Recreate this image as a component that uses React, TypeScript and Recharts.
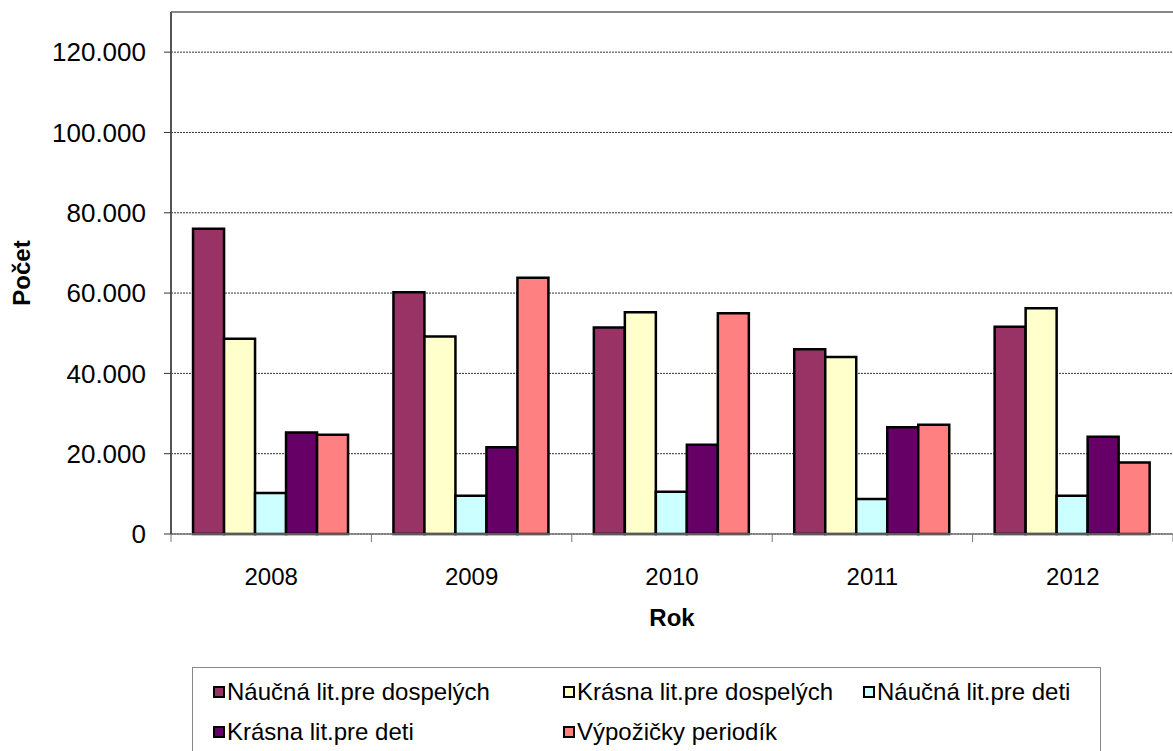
import { BarChart, Bar, XAxis, YAxis, CartesianGrid } from 'recharts';

const years = ['2008', '2009', '2010', '2011', '2012'];
const naucnaDospeli = [76000, 60200, 51400, 46000, 51600];
const krasnaDospeli = [48600, 49200, 55200, 44100, 56200];
const naucnaDeti = [10200, 9500, 10500, 8700, 9500];
const krasnaDeti = [25300, 21600, 22200, 26600, 24200];
const periodika = [24700, 63800, 55000, 27200, 17800];
const yTicks = [0, 20000, 40000, 60000, 80000, 100000, 120000];

const series = [
  { key: 'naucnaDospeli', name: 'Náučná lit.pre dospelých', color: '#993366', values: naucnaDospeli },
  { key: 'krasnaDospeli', name: 'Krásna lit.pre dospelých', color: '#FFFFCC', values: krasnaDospeli },
  { key: 'naucnaDeti', name: 'Náučná lit.pre deti', color: '#CCFFFF', values: naucnaDeti },
  { key: 'krasnaDeti', name: 'Krásna lit.pre deti', color: '#660066', values: krasnaDeti },
  { key: 'periodika', name: 'Výpožičky periodík', color: '#FF8080', values: periodika },
];

const data = years.map((year, i) => {
  const row: Record<string, string | number> = { year };
  series.forEach(s => { row[s.key] = s.values[i]; });
  return row;
});

const FONT = 'Arial, "Liberation Sans", sans-serif';
const FS = 24;
const PLOT_LEFT = 171;
const PLOT_RIGHT = 1173;
const BAND = (PLOT_RIGHT - PLOT_LEFT) / years.length;

const fmt = (v: number) => (v === 0 ? '0' : v.toLocaleString('de-DE'));

function XTick(props: any) {
  const { x, y, payload, index } = props;
  return (
    <g>
      <line x1={x - BAND / 2} x2={x - BAND / 2} y1={y - 8} y2={y} stroke="#777" strokeWidth={1} />
      {index === years.length - 1 && (
        <line x1={x + BAND / 2} x2={x + BAND / 2} y1={y - 8} y2={y} stroke="#777" strokeWidth={1} />
      )}
      <text x={x} y={y + 43} textAnchor="middle" fontSize={FS} fill="#000" fontFamily={FONT}>
        {payload.value}
      </text>
    </g>
  );
}

const legendPos = [
  { left: 20, top: 10 },
  { left: 370, top: 10 },
  { left: 670, top: 10 },
  { left: 20, top: 50 },
  { left: 370, top: 50 },
];

function LegendBox() {
  return (
    <div
      style={{
        position: 'absolute',
        left: 192,
        top: 667,
        width: 909,
        height: 100,
        border: '1.5px solid #888',
        boxSizing: 'border-box',
        background: '#fff',
        fontFamily: FONT,
        fontSize: FS,
        lineHeight: '28px',
      }}
    >
      {series.map((s, i) => (
        <div
          key={s.key}
          style={{ position: 'absolute', left: legendPos[i].left, top: legendPos[i].top, display: 'flex', alignItems: 'center', whiteSpace: 'nowrap' }}
        >
          <span style={{ width: 8, height: 8, background: s.color, border: '2px solid #000', marginRight: 2, display: 'inline-block' }} />
          <span>{s.name}</span>
        </div>
      ))}
    </div>
  );
}

export default function App() {
  return (
    <div style={{ position: 'absolute', left: 0, top: 0, width: 1173, height: 751, background: '#fff', overflow: 'hidden' }}>
      <BarChart
        width={1173}
        height={751}
        data={data}
        margin={{ top: 12, right: 0, left: 0, bottom: 117 }}
        barCategoryGap="11%"
        barGap={0}
      >
        <CartesianGrid vertical={false} horizontal stroke="#333" strokeDasharray="2 1" strokeWidth={1} />
        <line x1={PLOT_LEFT} x2={PLOT_RIGHT} y1={12} y2={12} stroke="#888" strokeWidth={2} />
        <XAxis
          dataKey="year"
          axisLine={{ stroke: '#777', strokeWidth: 1.5 }}
          tickLine={false}
          tick={<XTick />}
          height={100}
          interval={0}
          label={{ value: 'Rok', position: 'insideTop', dy: 70, fontSize: FS, fontWeight: 'bold', fill: '#000', fontFamily: FONT }}
        />
        <YAxis
          width={171}
          domain={[0, 130000]}
          ticks={yTicks}
          interval={0}
          tickFormatter={fmt}
          axisLine={{ stroke: '#555', strokeWidth: 2 }}
          tickLine={{ stroke: '#333' }}
          tickSize={7}
          tick={{ fontSize: 26, fill: '#000', fontFamily: FONT, dx: -16 }}
          label={{ value: 'Počet', angle: -90, position: 'insideLeft', dx: 16, fontSize: FS, fontWeight: 'bold', fill: '#000', fontFamily: FONT, style: { textAnchor: 'middle' } }}
        />
        {series.map(s => (
          <Bar key={s.key} dataKey={s.key} name={s.name} fill={s.color} stroke="#000" strokeWidth={2.5} isAnimationActive={false} />
        ))}
      </BarChart>
      <LegendBox />
    </div>
  );
}
